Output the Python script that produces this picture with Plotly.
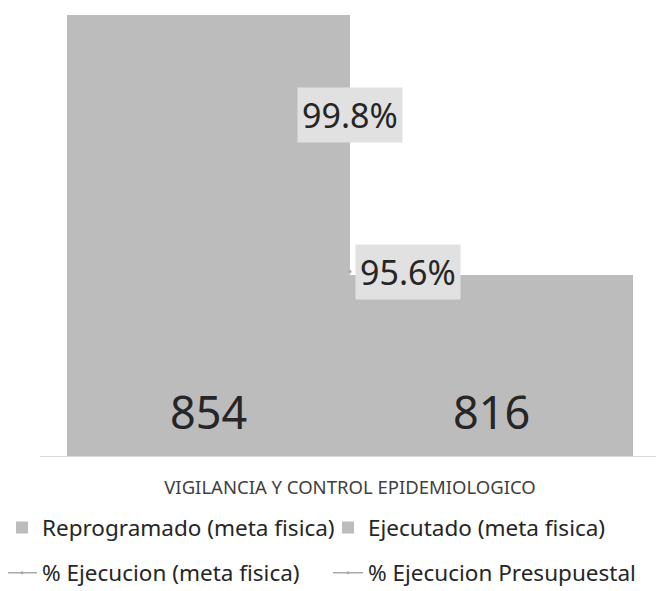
import plotly.graph_objects as go

categories = ["VIGILANCIA Y CONTROL EPIDEMIOLOGICO"]
reprogramado = [854]
ejecutado = [816]
pct_meta = [95.6]
pct_presup = [99.8]

FONT = "Noto Sans, sans-serif"
BAR = "#bcbcbc"
TXT = "#262626"
LINE = "#a9a9a9"

fig = go.Figure()
fig.add_trace(go.Bar(name="Reprogramado (meta fisica)", x=categories, y=reprogramado,
                     marker=dict(color=BAR, line=dict(width=0)), legend="legend"))
fig.add_trace(go.Bar(name="Ejecutado (meta fisica)", x=categories, y=ejecutado,
                     marker=dict(color=BAR, line=dict(width=0)), legend="legend"))
fig.add_trace(go.Scatter(name="% Ejecucion (meta fisica)", x=categories, y=pct_meta,
                         yaxis="y2", mode="lines+markers",
                         line=dict(color=LINE, width=1.5), marker=dict(color=LINE, size=3),
                         legend="legend2"))
fig.add_trace(go.Scatter(name="% Ejecucion Presupuestal", x=categories, y=pct_presup,
                         yaxis="y2", mode="lines+markers",
                         line=dict(color=LINE, width=1.5), marker=dict(color=LINE, size=3),
                         legend="legend2"))

# bar value labels at the base of each bar (bars start below the visible axis range)
for val, shift in ((reprogramado[0], -141.5), (ejecutado[0], 141.5)):
    fig.add_annotation(x=categories[0], xref="x", y=0, yref="paper", yanchor="bottom",
                       xanchor="center", xshift=shift, yshift=12, text=str(val),
                       showarrow=False, font=dict(size=45, color=TXT, family=FONT))

fig.add_annotation(x=categories[0], y=pct_meta[0], xref="x", yref="y2",
                   text=f"{pct_meta[0]:.1f}%", showarrow=False, xanchor="left", xshift=5,
                   bgcolor="#e1e1e1", borderpad=4, font=dict(size=34, color=TXT, family=FONT))
fig.add_annotation(x=categories[0], y=pct_presup[0], xref="x", yref="y2",
                   text=f"{pct_presup[0]:.1f}%", showarrow=False, xanchor="center",
                   bgcolor="#e1e1e1", borderpad=4, font=dict(size=34, color=TXT, family=FONT))

legend_common = dict(orientation="h", xanchor="left", yanchor="middle", x=-0.0613,
                     entrywidth=281, entrywidthmode="pixels", bgcolor="rgba(0,0,0,0)",
                     font=dict(size=22.5, color=TXT, family=FONT), itemclick=False)

fig.update_layout(
    width=656, height=583,
    margin=dict(l=32, r=4, t=0, b=135, autoexpand=False),
    paper_bgcolor="white", plot_bgcolor="white",
    barmode="group", bargap=0.0871, bargroupgap=0,
    font=dict(family=FONT, color=TXT),
    xaxis=dict(showline=True, linecolor="#d9d9d9", linewidth=1, ticks="",
               ticklabelstandoff=15, tickfont=dict(size=18.5, color="#404040", family=FONT),
               showgrid=False, automargin=False),
    yaxis=dict(visible=False, range=[789.55, 855.02], showgrid=False),
    yaxis2=dict(visible=False, overlaying="y", range=[90.65, 102.67], showgrid=False),
    legend=dict(legend_common, y=-0.1607),
    legend2=dict(legend_common, y=-0.2612),
    showlegend=True,
)

fig.write_html("out.html")
